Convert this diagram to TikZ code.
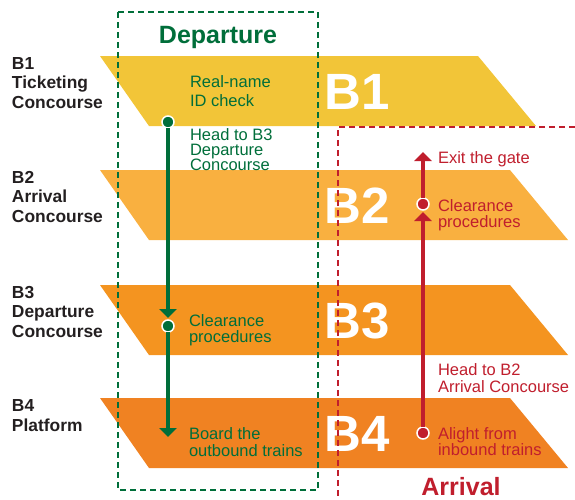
\documentclass[tikz,border=0pt]{standalone}
\usepackage{fontspec}
\setmainfont{Liberation Sans}
\usetikzlibrary{arrows.meta}
\definecolor{depgreen}{RGB}{0,110,58}
\definecolor{arrred}{RGB}{192,30,45}
\definecolor{floorA}{RGB}{242,197,56}
\definecolor{floorB}{RGB}{249,176,64}
\definecolor{floorC}{RGB}{244,148,32}
\definecolor{floorD}{RGB}{240,130,34}
\definecolor{labelgray}{RGB}{35,31,32}
\tikzset{
    every picture/.style = {
        > = {Triangle[width=17pt,length=9pt]},
        x = 1pt,
        y = -1pt
    },
    every node/.style = {
        inner sep = 0pt,
        outer sep = 0pt,
        align = left
    },
    floorname/.style = {
        anchor = base west,
        text = labelgray,
        font = \bfseries\fontsize{17.4}{19.5}\selectfont
    },
    floorbig/.style = {
        text = white,
        font = \bfseries\fontsize{51}{51}\selectfont
    },
    title/.style = {
        anchor = base,
        font = \bfseries\fontsize{25}{25}\selectfont
    },
    deptext/.style = {
        anchor = base west,
        text = depgreen,
        font = \fontsize{16.5}{#1}\selectfont
    },
    deptext/.default = 16,
    arrtext/.style = {
        anchor = base west,
        text = arrred,
        font = \fontsize{16.5}{#1}\selectfont
    },
    arrtext/.default = 16,
    frame/.style = {
        line width = 2.5pt,
        dash pattern = on 6pt off 4pt
    },
    dot/.style = {
        circle,
        draw = white,
        line width = 1.5pt,
        minimum size = 12pt
    },
    flow/.style = {
        line width = 4.5pt,
        ->
    }
}

\begin{document}
\begin{tikzpicture}
    \useasboundingbox (0,0) rectangle (575,499);
    \foreach \y/\r/\c/\n in {56/478/floorA/1, 170/510/floorB/2, 285/510/floorC/3, 398/510/floorD/4} {
        \fill[\c] (100,\y) -- (\r,\y) -- (\r+58,\y+70) -- (149,\y+70) -- cycle;
        \node[floorbig] (big\n) at (357,\y+36) {B\n};
    }
    \node[floorname] (nameB1) at (12,108) {B1\\Ticketing\\Concourse};
    \node[floorname] (nameB2) at (12,222) {B2\\Arrival\\Concourse};
    \node[floorname] (nameB3) at (12,337) {B3\\Departure\\Concourse};
    \node[floorname] (nameB4) at (12,431) {B4\\Platform};

    \draw[frame, depgreen] (118,12) rectangle (318,490);
    \draw[frame, arrred, line width=2pt] (575,127) -- (338,127) -- (338,499);
    \node[title, text=depgreen] (departure) at (218,43) {Departure};
    \node[title, text=arrred] (arrival) at (461,495) {Arrival};

    \node[dot, fill=depgreen] (realname) at (168,122) {};
    \node[dot, fill=depgreen] (clearB3) at (168,326) {};
    \coordinate (board) at (168,437);
    \draw[flow, depgreen, shorten >=2pt] (realname) -- (clearB3);
    \draw[flow, depgreen] (clearB3) -- (board);
    \node[deptext=19] (realnametext) at (190,106) {Real-name\\ID check};
    \node[deptext=15] (headB3) at (190,170) {Head to B3\\Departure\\Concourse};
    \node[deptext] (clearB3text) at (189,342) {Clearance\\procedures};
    \node[deptext=17] (boardtext) at (189,456) {Board the\\outbound trains};

    \node[dot, fill=arrred] (alight) at (423,433) {};
    \node[dot, fill=arrred] (clearB2) at (423,204) {};
    \coordinate (exitgate) at (423,152);
    \draw[flow, arrred, shorten >=2pt] (alight) -- (clearB2);
    \draw[flow, arrred] (clearB2) -- (exitgate);
    \node[arrtext] (exittext) at (438,163) {Exit the gate};
    \node[arrtext] (clearB2text) at (438,227) {Clearance\\procedures};
    \node[arrtext=17] (headB2) at (438,392) {Head to B2\\Arrival Concourse};
    \node[arrtext] (alighttext) at (438,455) {Alight from\\inbound trains};
\end{tikzpicture}
\end{document}
